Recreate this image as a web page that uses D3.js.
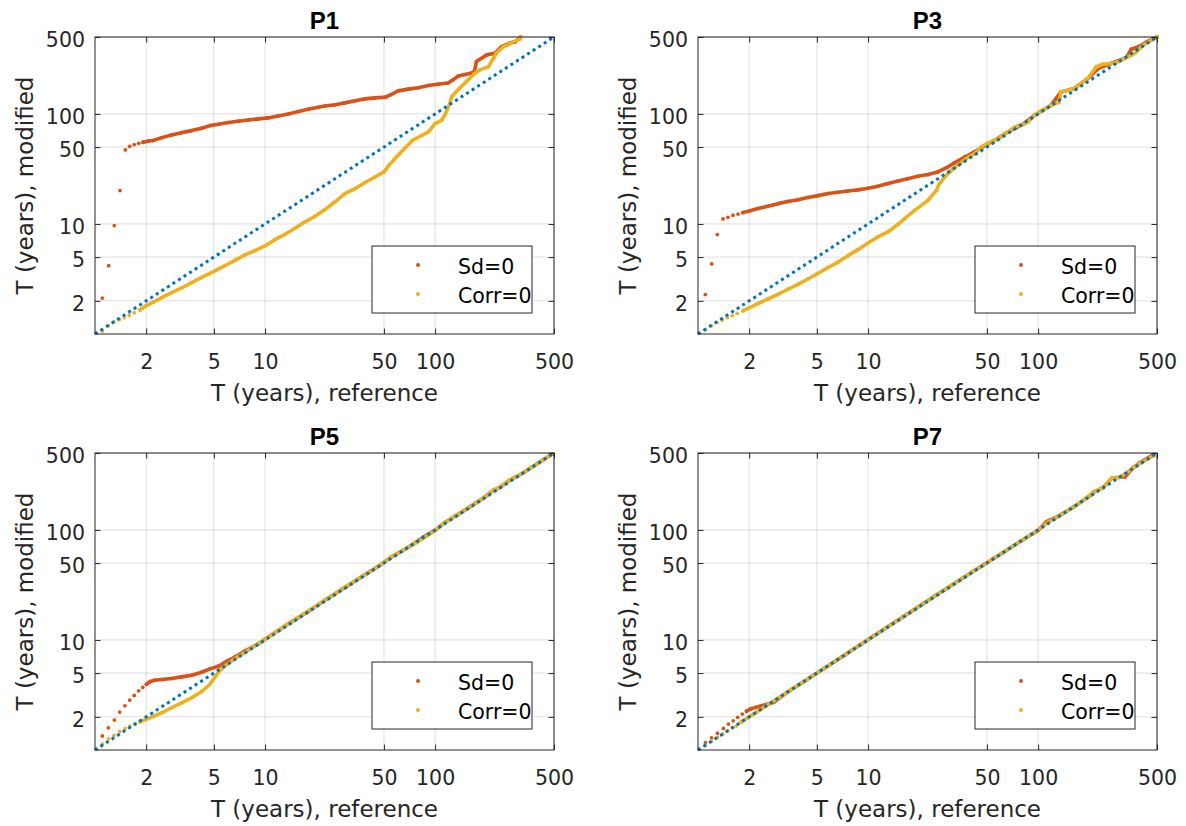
<!DOCTYPE html>
<html>
<head>
<meta charset="utf-8">
<script src="https://cdn.jsdelivr.net/npm/d3@7"></script>
<style>
  body { margin: 0; background: #fff; }
  svg { display: block; font-family: "DejaVu Sans", sans-serif; }
</style>
</head>
<body>
<div id="chart-area"></div>
<script>
// tick values / labels (both axes, log scale)
const TICKS = [2, 5, 10, 50, 100, 500]
const DOMAIN = [1, 500]
const DIAG = [[1, 1], [500, 500]]
const seriesNames = ["Sd=0", "Corr=0"]
const panelTitles = ["P1", "P3", "P5", "P7"]

// [T reference, T modified]
// "Dots" = isolated markers at small T, "Line" = densely packed markers
const p1SdDots = [[1.104,2.12],[1.203,4.18],[1.299,9.66],[1.403,20.1],[1.508,47.1],[1.60,50.8],[1.70,52.6],[1.806,54.1],[1.92,55.3]]
const p1SdLine = [[1.92,55.3],[2.06,56.7],[2.20,57.3],[2.47,60.9],[2.82,64.4],[3.23,67.6],[3.70,70.5],[4.24,74.1],[4.74,78.3],[5.31,80.5],[6.08,83.4],[6.96,85.8],[7.97,88.2],[9.12,90.1],[10.4,92.0],[11.9,95.9],[13.7,100],[15.7,105],[17.9,110],[20.6,115],[22.5,118],[25.8,121],[29.5,126],[33.8,132],[38.7,137],[44.3,140],[51,142],[55,150],[60.7,162],[69.5,168],[79.6,173],[91.2,181],[104,186],[119,191],[128,205],[137,221],[150,228],[164,236],[170,243],[175,299],[201,344],[225,356],[246,409],[275,440],[295,451],[318,500]]
const p1CorrDots = [[1.104,1.065],[1.198,1.19],[1.293,1.29],[1.39,1.35],[1.487,1.41],[1.59,1.48],[1.70,1.56],[1.84,1.66]]
const p1CorrLine = [[1.84,1.66],[2.0,1.81],[2.2,1.95],[2.47,2.14],[2.82,2.38],[3.23,2.62],[3.70,2.93],[4.24,3.27],[5.0,3.71],[5.81,4.18],[6.64,4.67],[7.6,5.23],[8.72,5.72],[10,6.31],[11.4,7.2],[13.1,8.05],[15,9.13],[17.1,10.4],[19.6,11.7],[22.5,13.5],[25.8,15.9],[29.5,18.9],[33.8,20.9],[38.7,23.8],[44.3,26.7],[50,29.7],[53.5,34.1],[59.2,40.6],[66.1,48.4],[73.8,57.6],[84,64],[91.2,68.6],[100,81.7],[109,87.5],[114,97.2],[122,124],[125,143],[139,171],[153,197],[171,234],[183,251],[206,269],[220,320],[229,356],[252,409],[268,424],[287,452],[315,478],[318,500]]

const p3SdDots = [[1.104,2.28],[1.203,4.33],[1.299,8.0],[1.403,11.1],[1.50,11.5],[1.605,12.0],[1.72,12.3],[1.84,12.7]]
const p3SdLine = [[1.84,12.7],[2.0,13.1],[2.25,13.8],[2.58,14.5],[2.95,15.3],[3.38,16.0],[3.87,16.6],[4.43,17.4],[5.0,18.0],[5.81,18.9],[6.64,19.4],[7.6,19.95],[8.72,20.4],[10,21.1],[11.4,22.0],[13.1,23.3],[15,24.6],[17.1,25.8],[19.6,27.1],[22.5,28.1],[25.7,29.7],[28.8,32.3],[32.2,35.9],[37,40.6],[42.3,45.2],[48.6,51.5],[55.5,57.6],[66.5,68.6],[81.5,80.5],[95.3,97.2],[119,120],[136,158],[163,170],[196,210],[225,258],[268,287],[330,325],[353,387],[395,412],[434,451],[500,500]]
const p3CorrDots = [[1.104,1.095],[1.198,1.19],[1.293,1.27],[1.39,1.34],[1.487,1.41],[1.59,1.47],[1.70,1.54],[1.84,1.63]]
const p3CorrLine = [[1.84,1.63],[2.0,1.73],[2.25,1.89],[2.58,2.08],[2.95,2.29],[3.38,2.55],[3.87,2.83],[4.43,3.16],[5.0,3.51],[5.81,4.01],[6.64,4.48],[7.6,5.15],[8.72,5.84],[10,6.72],[11.4,7.62],[13.1,8.46],[15,9.93],[16.4,11.2],[18.8,13.3],[22.5,16.4],[25.2,20.2],[26.3,23.3],[28.2,26.7],[30.9,30.7],[33.7,34.2],[37.8,39.3],[42.3,43.6],[46.3,50.1],[50.8,54.5],[55.5,57.6],[60.8,61.8],[66.5,68.6],[72.8,76.2],[81.5,80.5],[87.1,84.6],[95.3,97.2],[104,106],[119,120],[133,128],[136,158],[149,164],[163,170],[179,189],[196,210],[219,267],[240,283],[268,287],[294,297],[330,325],[353,341],[378,366],[414,421],[464,468],[500,500]]

const p5SdDots = [[1.104,1.34],[1.198,1.59],[1.299,1.87],[1.396,2.21],[1.50,2.52],[1.60,2.84],[1.70,3.13],[1.806,3.45],[1.91,3.70],[2.01,3.96]]
const p5SdLine = [[2.01,3.96],[2.11,4.19],[2.25,4.31],[2.47,4.37],[2.82,4.46],[3.23,4.62],[3.70,4.78],[4.24,5.09],[4.74,5.46],[5.31,5.77],[5.94,6.40],[6.64,7.0],[7.6,7.94],[9,9.1],[11,11.2],[14,14.3],[18,18.2],[23,23.5],[30,30.5],[38,38.5],[48,48.5],[55,56.5],[70,70],[85,86],[100,99],[115,118],[135,137],[160,162],[190,192],[218,227],[240,243],[275,284],[321,322],[370,372],[430,432],[490,490]]
const p5CorrDots = [[1.104,1.13],[1.198,1.26],[1.293,1.36],[1.396,1.47],[1.50,1.56],[1.605,1.65],[1.72,1.73],[1.84,1.81]]
const p5CorrLine = [[1.84,1.81],[2.0,1.90],[2.2,2.02],[2.47,2.18],[2.82,2.42],[3.23,2.68],[3.70,2.98],[4.24,3.40],[4.74,3.96],[5.08,4.62],[5.55,5.5],[6.5,6.6],[8,8.1],[10,10.2],[13,13.3],[17,17.4],[22,22.5],[28,28.8],[35,35.6],[42,42.4],[50,50.5],[55,56.5],[65,65.5],[78,77],[90,89],[100,99],[115,118],[130,133],[150,152],[175,178],[200,203],[218,227],[240,245],[275,284],[321,322],[370,372],[430,430],[480,482]]

const p7SdDots = [[1.106,1.166],[1.20,1.29],[1.30,1.42],[1.41,1.57],[1.51,1.72],[1.61,1.84],[1.71,1.98],[1.82,2.12],[1.93,2.26]]
const p7SdLine = [[1.93,2.26],[2.05,2.37],[2.18,2.44],[2.32,2.50],[2.46,2.56],[2.62,2.63],[2.79,2.71],[3.3,3.3],[4.2,4.2],[5.5,5.5],[7,7],[9,9.05],[12,12.1],[16,16.2],[21,21.3],[28,28.4],[37,37.5],[48,48.5],[62,62],[80,80],[100,99],[112,119],[130,132],[160,160],[200,203],[211,219],[240,242],[272,296],[325,304],[360,365],[398,410],[464,472]]
const p7CorrDots = [[1.1,1.1],[1.2,1.2],[1.3,1.3],[1.4,1.4],[1.5,1.5],[1.6,1.6],[1.68,1.65],[1.8,1.8]]
const p7CorrLine = [[1.8,1.8],[2.2,2.2],[2.8,2.8],[3.5,3.5],[4.5,4.5],[6,6],[8,8.05],[10.5,10.6],[14,14.1],[19,19.2],[25,25.5],[33,33.5],[43,43.5],[55,55.5],[70,70],[88,88],[100,100],[115,118],[140,140],[175,176],[211,219],[240,242],[272,296],[300,300],[340,340],[398,405],[440,440],[480,475]]

const panelSeries = [
  [[p1SdDots, p1SdLine], [p1CorrDots, p1CorrLine]],
  [[p3SdDots, p3SdLine], [p3CorrDots, p3CorrLine]],
  [[p5SdDots, p5SdLine], [p5CorrDots, p5CorrLine]],
  [[p7SdDots, p7SdLine], [p7CorrDots, p7CorrLine]]
]

const COLORS = ["#D95319", "#EDB120"]
const DIAG_COLOR = "#0072BD"
const AX = "#262626"

const W = 459, H = 297
const ORIGINS = [[95, 37], [698, 37], [95, 453], [698, 453]]

const svg = d3.select("#chart-area").append("svg")
  .attr("width", 1186)
  .attr("height", 826)

svg.append("rect").attr("width", 1186).attr("height", 826).attr("fill", "#fff")

panelTitles.forEach((title, i) => {
  const [left, top] = ORIGINS[i]
  const g = svg.append("g").attr("transform", `translate(${left}, ${top})`)

  const x = d3.scaleLog().domain(DOMAIN).range([0, W])
  const y = d3.scaleLog().domain(DOMAIN).range([H, 0])

  // grid
  g.append("g").selectAll("line").data(TICKS).join("line")
    .attr("x1", d => x(d)).attr("x2", d => x(d))
    .attr("y1", 0).attr("y2", H)
    .attr("stroke", AX).attr("stroke-opacity", 0.15)
  g.append("g").selectAll("line").data(TICKS).join("line")
    .attr("y1", d => y(d)).attr("y2", d => y(d))
    .attr("x1", 0).attr("x2", W)
    .attr("stroke", AX).attr("stroke-opacity", 0.15)

  // series: red first, yellow on top
  const line = d3.line().x(d => x(d[0])).y(d => y(d[1]))
  panelSeries[i].forEach(([dots, trace], k) => {
    g.append("path")
      .attr("d", line(trace))
      .attr("fill", "none")
      .attr("stroke", COLORS[k])
      .attr("stroke-width", 3.6)
      .attr("stroke-linejoin", "round")
      .attr("stroke-linecap", "round")
    g.append("g").selectAll("circle").data(dots.concat(trace)).join("circle")
      .attr("cx", d => x(d[0]))
      .attr("cy", d => y(d[1]))
      .attr("r", 1.9)
      .attr("fill", COLORS[k])
  })

  // 1:1 line, dotted
  g.append("path")
    .attr("d", line(DIAG))
    .attr("fill", "none")
    .attr("stroke", DIAG_COLOR)
    .attr("stroke-width", 3)
    .attr("stroke-dasharray", "3,3.6")

  // axes (ticks pointing inward on all sides)
  const xAxisCall = d3.axisBottom(x).tickValues(TICKS).tickFormat(d => d).tickSizeInner(-5.5).tickSizeOuter(0)
  const xa = g.append("g").attr("transform", `translate(0, ${H})`).call(xAxisCall)
  xa.select(".domain").remove()
  xa.selectAll("line").attr("stroke", AX)
  xa.selectAll("text")
    .attr("y", 35).attr("dy", null)
    .attr("font-size", "20.5px").attr("font-family", "DejaVu Sans").attr("fill", AX)

  const yAxisCall = d3.axisLeft(y).tickValues(TICKS).tickFormat(d => d).tickSizeInner(-5.5).tickSizeOuter(0)
  const ya = g.append("g").call(yAxisCall)
  ya.select(".domain").remove()
  ya.selectAll("line").attr("stroke", AX)
  ya.selectAll("text")
    .attr("x", -10).attr("y", 9.3).attr("dy", null)
    .attr("font-size", "20.5px").attr("font-family", "DejaVu Sans").attr("fill", AX)

  const xt = g.append("g").call(d3.axisTop(x).tickValues(TICKS).tickFormat("").tickSizeInner(-5.5).tickSizeOuter(0))
  xt.select(".domain").remove()
  xt.selectAll("line").attr("stroke", AX)
  const yr = g.append("g").attr("transform", `translate(${W}, 0)`)
    .call(d3.axisRight(y).tickValues(TICKS).tickFormat("").tickSizeInner(-5.5).tickSizeOuter(0))
  yr.select(".domain").remove()
  yr.selectAll("line").attr("stroke", AX)

  // box
  g.append("rect")
    .attr("width", W).attr("height", H)
    .attr("fill", "none").attr("stroke", AX).attr("stroke-width", 1)

  // labels
  g.append("text")
    .attr("x", W / 2).attr("y", H + 67)
    .attr("text-anchor", "middle")
    .attr("font-size", "23px").attr("fill", AX)
    .text("T (years), reference")
  g.append("text")
    .attr("transform", "rotate(-90)")
    .attr("x", -H / 2).attr("y", -62)
    .attr("text-anchor", "middle")
    .attr("font-size", "23px").attr("fill", AX)
    .text("T (years), modified")
  g.append("text")
    .attr("x", W / 2).attr("y", -8)
    .attr("text-anchor", "middle")
    .attr("font-family", "Liberation Sans, Arial, sans-serif")
    .attr("font-weight", "bold")
    .attr("font-size", "24px").attr("fill", "#000")
    .text(title)

  // legend
  const legend = g.append("g").attr("transform", `translate(${W - 182}, ${H - 88})`)
  legend.append("rect")
    .attr("width", 160).attr("height", 67)
    .attr("fill", "#fff").attr("stroke", AX).attr("stroke-width", 1)
  seriesNames.forEach((name, k) => {
    const row = legend.append("g").attr("transform", `translate(0, ${19 + k * 29})`)
    row.append("circle").attr("cx", 46).attr("cy", 0).attr("r", 2).attr("fill", COLORS[k])
    row.append("text")
      .attr("x", 86).attr("y", 9)
      .attr("font-size", "20.5px").attr("fill", "#000")
      .text(name)
  })
})
</script>
</body>
</html>
